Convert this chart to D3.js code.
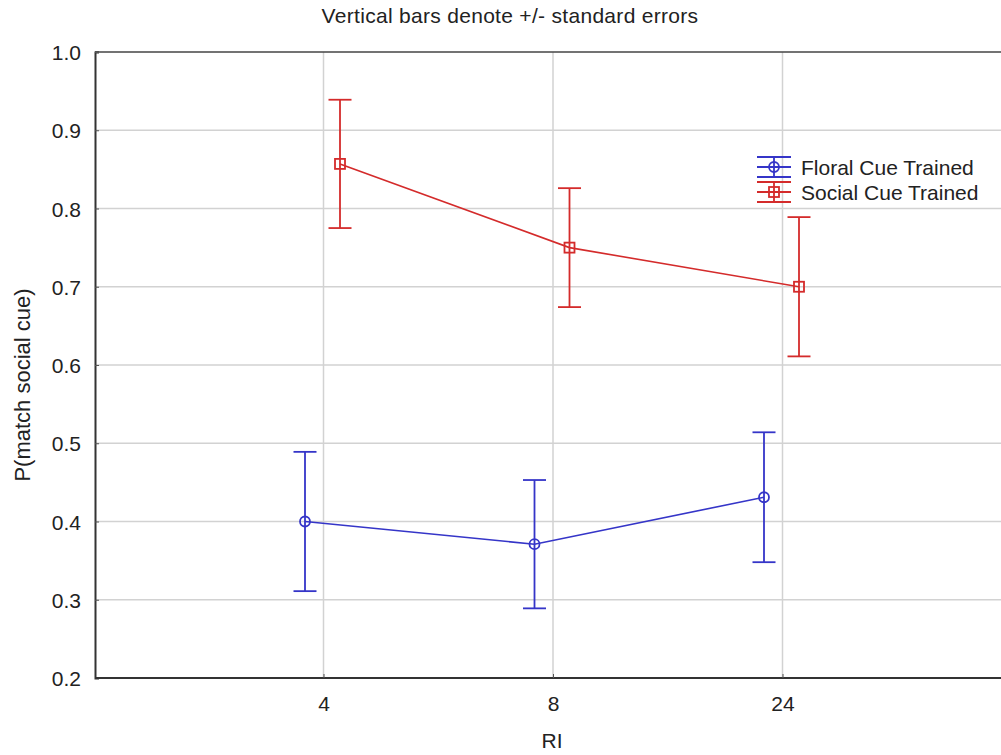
<!DOCTYPE html>
<html>
<head>
<meta charset="utf-8">
<script src="https://cdn.jsdelivr.net/npm/d3@7"></script>
<style>
  html, body { margin: 0; padding: 0; background: #ffffff; }
  svg { display: block; font-family: Arial, "Liberation Sans", sans-serif; }
</style>
</head>
<body>
<div id="chart"></div>
<script>
// Data
var categories = ["4", "8", "24"];
var yTicks = [0.2, 0.3, 0.4, 0.5, 0.6, 0.7, 0.8, 0.9, 1.0];
var floralMean = [0.400, 0.371, 0.431];
var floralSE = [0.089, 0.082, 0.083];
var socialMean = [0.857, 0.750, 0.700];
var socialSE = [0.082, 0.076, 0.089];
var seriesNames = ["Floral Cue Trained", "Social Cue Trained"];

function chartRI_Draw(ele) {
    ele = "#" + ele;
    d3.select(ele).select("svg").remove();

    var w = 1001, h = 755;
    var left = 95, top = 52, bottom = 678, right = 1012;

    var svg = d3.select(ele)
        .append("svg")
        .attr("width", w)
        .attr("height", h);

    var x = d3.scalePoint().domain(categories).range([left - 1, right]).padding(1);
    var y = d3.scaleLinear().domain([0.2, 1.0]).range([bottom, top]);

    // Grid
    svg.selectAll(".hgrid")
        .data(yTicks.slice(1, -1))
        .enter()
        .append("line")
        .attr("x1", left).attr("x2", w)
        .attr("y1", function(d) { return y(d); })
        .attr("y2", function(d) { return y(d); })
        .attr("stroke", "#d2d2d2").attr("stroke-width", 1.5);

    svg.selectAll(".vgrid")
        .data(categories)
        .enter()
        .append("line")
        .attr("x1", function(d) { return x(d); })
        .attr("x2", function(d) { return x(d); })
        .attr("y1", top).attr("y2", bottom)
        .attr("stroke", "#d2d2d2").attr("stroke-width", 1.5);

    // Frame
    svg.append("line").attr("x1", left).attr("x2", w).attr("y1", top).attr("y2", top)
        .attr("stroke", "#444").attr("stroke-width", 1.5);

    var yAxis = d3.axisLeft(y).tickValues(yTicks).tickFormat(d3.format(".1f")).tickSize(-4).tickPadding(14);
    var gy = svg.append("g").attr("transform", "translate(" + left + ",0)").call(yAxis);
    gy.select(".domain").attr("stroke", "#333").attr("stroke-width", 2);
    gy.selectAll(".tick line").attr("stroke", "#555");
    gy.selectAll("text").attr("font-size", "21px").attr("fill", "#222").attr("dy", "0.36em");

    var xAxis = d3.axisBottom(x).tickSize(-4).tickPadding(18);
    var gx = svg.append("g").attr("transform", "translate(0," + bottom + ")").call(xAxis);
    gx.select(".domain").attr("d", "M" + left + ",0H" + w).attr("stroke", "#333").attr("stroke-width", 2);
    gx.selectAll(".tick line").attr("stroke", "#555");
    gx.selectAll("text").attr("font-size", "21px").attr("fill", "#222");

    // Titles
    svg.append("text").attr("x", 510).attr("y", 23).attr("text-anchor", "middle")
        .attr("font-size", "21px").attr("letter-spacing", "0.3px").attr("fill", "#222")
        .text("Vertical bars denote +/- standard errors");
    svg.append("text").attr("x", 552).attr("y", 748).attr("text-anchor", "middle")
        .attr("font-size", "21px").attr("fill", "#222").text("RI");
    svg.append("text").attr("transform", "translate(30,385) rotate(-90)").attr("text-anchor", "middle")
        .attr("font-size", "22px").attr("fill", "#222").text("P(match social cue)");

    // Series
    var series = [
        { name: seriesNames[0], mean: floralMean, se: floralSE, color: "#3535c8", dx: -18.5, shape: "circle" },
        { name: seriesNames[1], mean: socialMean, se: socialSE, color: "#d42b2b", dx: 16.5, shape: "square" }
    ];

    var line = d3.line()
        .x(function(d) { return d.x; })
        .y(function(d) { return d.y; });

    series.forEach(function(s) {
        var pts = categories.map(function(c, i) {
            return { x: x(c) + s.dx, y: y(s.mean[i]), lo: y(s.mean[i] - s.se[i]), hi: y(s.mean[i] + s.se[i]) };
        });
        var g = svg.append("g");

        g.append("path").datum(pts).attr("d", line)
            .attr("fill", "none").attr("stroke", s.color).attr("stroke-width", 1.6);

        g.selectAll(".eb").data(pts).enter().append("line")
            .attr("x1", function(d) { return d.x; }).attr("x2", function(d) { return d.x; })
            .attr("y1", function(d) { return d.lo; }).attr("y2", function(d) { return d.hi; })
            .attr("stroke", s.color).attr("stroke-width", 1.8);
        ["hi", "lo"].forEach(function(k) {
            g.selectAll(".cap" + k).data(pts).enter().append("line")
                .attr("x1", function(d) { return d.x - 11.5; }).attr("x2", function(d) { return d.x + 11.5; })
                .attr("y1", function(d) { return d[k]; }).attr("y2", function(d) { return d[k]; })
                .attr("stroke", s.color).attr("stroke-width", 1.8);
        });

        drawMarkers(g, pts, s);
    });

    // Legend
    var lg = svg.append("g");
    series.forEach(function(s, i) {
        var cy = 167 + i * 25, cx = 774;
        var r = lg.append("g");
        [-10, 0, 10].forEach(function(o) {
            r.append("line").attr("x1", cx - 17).attr("x2", cx + 17)
                .attr("y1", cy + o).attr("y2", cy + o)
                .attr("stroke", s.color).attr("stroke-width", 1.8);
        });
        r.append("line").attr("x1", cx).attr("x2", cx).attr("y1", cy - 10).attr("y2", cy + 10)
            .attr("stroke", s.color).attr("stroke-width", 1.8);
        drawMarkers(r, [{ x: cx, y: cy }], s);
        lg.append("text").attr("x", 801).attr("y", cy + 8)
            .attr("font-size", "21px").attr("fill", "#222").text(s.name);
    });
}

function drawMarkers(g, pts, s) {
    if (s.shape === "circle") {
        g.selectAll(".mk").data(pts).enter().append("circle")
            .attr("cx", function(d) { return d.x; }).attr("cy", function(d) { return d.y; })
            .attr("r", 5).attr("fill", "none").attr("stroke", s.color).attr("stroke-width", 1.8);
    } else {
        g.selectAll(".mk").data(pts).enter().append("rect")
            .attr("x", function(d) { return d.x - 5; }).attr("y", function(d) { return d.y - 5; })
            .attr("width", 10).attr("height", 10)
            .attr("fill", "none").attr("stroke", s.color).attr("stroke-width", 1.8);
    }
}

chartRI_Draw("chart");
</script>
</body>
</html>
